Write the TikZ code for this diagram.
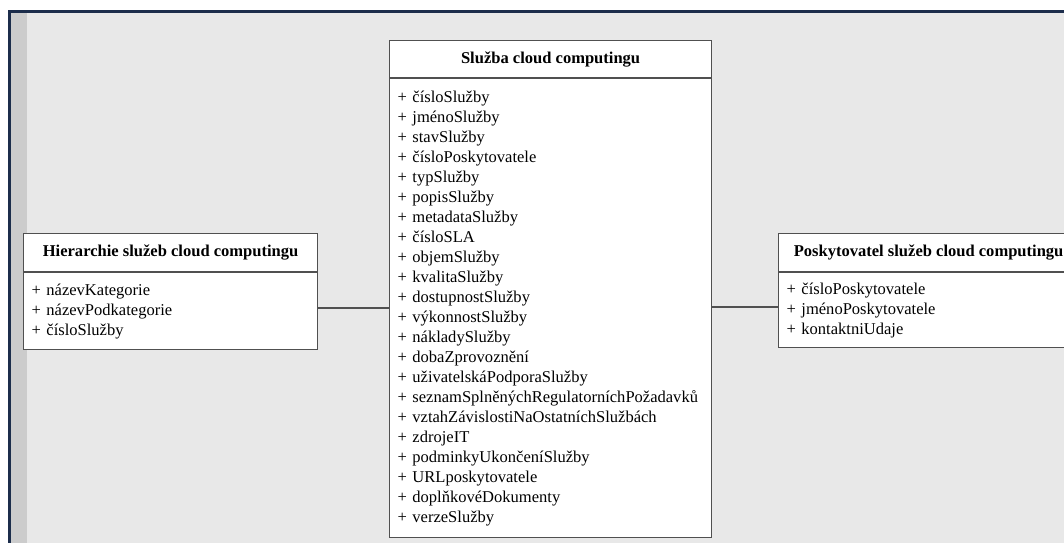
\documentclass[tikz,border=0pt]{standalone}
\usepackage{fontspec}
\setmainfont{Liberation Serif}
\usepackage{tikz}
\usetikzlibrary{positioning}
\definecolor{framenavy}{RGB}{28,45,75}
\definecolor{canvasgray}{RGB}{232,232,232}
\definecolor{stripgray}{RGB}{204,204,204}
\definecolor{boxline}{RGB}{80,80,80}

\begin{document}
\begin{tikzpicture}[
  x=0.75pt, y=-0.75pt,
  classhead/.style={rectangle, draw=boxline, fill=white, line width=0.9pt, inner sep=0pt, font=\fontsize{12.4}{15}\selectfont\bfseries},
  classbody/.style={rectangle, draw=boxline, fill=white, line width=0.9pt, inner xsep=6pt, inner ysep=0pt, align=left, font=\fontsize{12.4}{15}\selectfont},
  assoc/.style={draw=boxline, line width=0.9pt}
]
\useasboundingbox (0,0) rectangle (1064,543);

% Frame and canvas
\fill[framenavy] (8,10) rectangle (1064,543);
\fill[canvasgray] (11,12.5) rectangle (1064,543);
\fill[stripgray] (11,12.5) rectangle (26.5,543);

% Central class
\node[classhead, anchor=north west, minimum width=241.5pt, minimum height=27.75pt] (cloudHead) at (389,40) {Služba cloud computingu};
\node[classbody, below=0pt of cloudHead, text width=229.5pt, minimum height=344.25pt] (cloudBody) {%
+ čísloSlužby\\
+ jménoSlužby\\
+ stavSlužby\\
+ čísloPoskytovatele\\
+ typSlužby\\
+ popisSlužby\\
+ metadataSlužby\\
+ čísloSLA\\
+ objemSlužby\\
+ kvalitaSlužby\\
+ dostupnostSlužby\\
+ výkonnostSlužby\\
+ nákladySlužby\\
+ dobaZprovoznění\\
+ uživatelskáPodporaSlužby\\
+ seznamSplněnýchRegulatorníchPožadavků\\
+ vztahZávislostiNaOstatníchSlužbách\\
+ zdrojeIT\\
+ podminkyUkončeníSlužby\\
+ URLposkytovatele\\
+ doplňkovéDokumenty\\
+ verzeSlužby};

% Left class
\node[classhead, anchor=north west, minimum width=220.5pt, minimum height=28.5pt] (hierHead) at (23,233) {Hierarchie služeb cloud computingu};
\node[classbody, below=0pt of hierHead, text width=208.5pt, minimum height=57.75pt] (hierBody) {%
+ názevKategorie\\
+ názevPodkategorie\\
+ čísloSlužby};

% Right class
\node[classhead, anchor=north west, minimum width=225pt, minimum height=28.5pt] (provHead) at (778,233) {Poskytovatel služeb cloud computingu};
\node[classbody, below=0pt of provHead, text width=213pt, minimum height=56.25pt] (provBody) {%
+ čísloPoskytovatele\\
+ jménoPoskytovatele\\
+ kontaktniUdaje};

% Associations
\draw[assoc] ([yshift=2.5pt]hierBody.east) -- ([yshift=2.5pt]hierBody.east -| cloudBody.west);
\draw[assoc] ([yshift=2.5pt]provBody.west) -- ([yshift=2.5pt]provBody.west -| cloudBody.east);

\end{tikzpicture}
\end{document}
